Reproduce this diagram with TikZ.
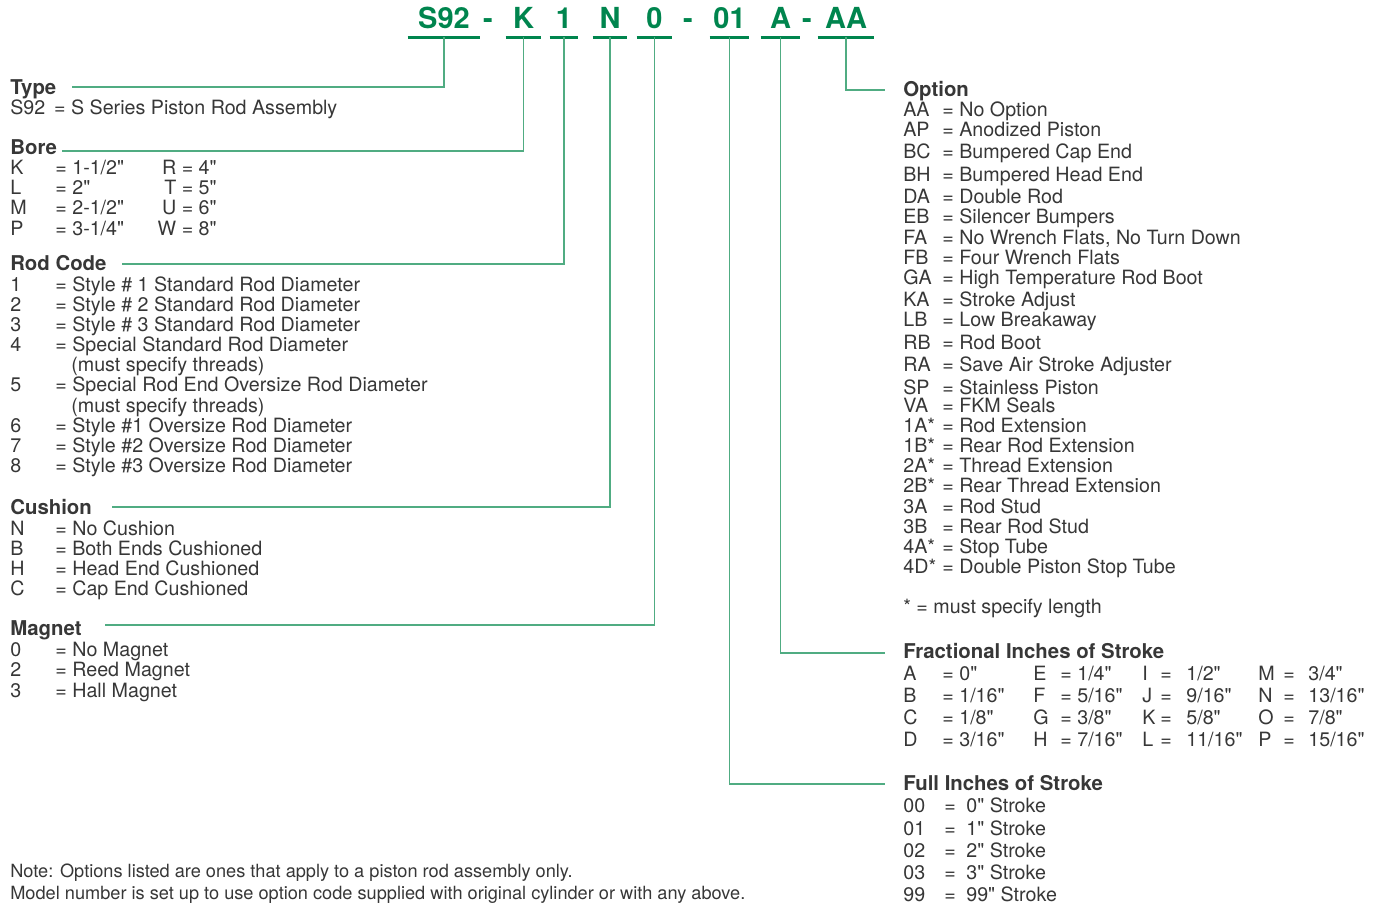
\documentclass[tikz,border=0pt]{standalone}
\usepackage{fontspec}
\setmainfont{TeX Gyre Heros}[Ligatures=TeXOff]
\newcommand{\inch}{\symbol{34}}
\definecolor{ink}{RGB}{55,55,55}
\definecolor{grn}{RGB}{0,133,78}
\definecolor{lead}{RGB}{80,172,130}
\tikzset{
  txt/.style={anchor=west,inner sep=0,text=ink,text height=1.5ex,text depth=0.35ex,
    yshift=-0.04cm,font=\fontsize{11.2}{13}\selectfont},
  head/.style={txt,font=\fontsize{11.6}{13}\selectfont\bfseries},
  small/.style={txt,font=\fontsize{10.35}{12}\selectfont},
  part/.style={inner sep=0,minimum height=0.76cm,text=grn,text height=12pt,text depth=0pt,
    font=\fontsize{16.5}{18}\selectfont\bfseries},
  uline/.style={grn,line width=1.4pt},
  link/.style={lead,line width=0.9pt}
}
\begin{document}
\begin{tikzpicture}[x=0.02cm,y=-0.02cm]
  \useasboundingbox (0,0) rectangle (1379,906);
  % model code
  \node[part,minimum width=1.44cm] (cS92) at (444,18) {S92};
  \node[part] (d1) at (488,18) {-};
  \node[part,minimum width=0.70cm] (cK) at (523.5,18) {K};
  \node[part,minimum width=0.56cm] (c1) at (564,18) {1};
  \node[part,minimum width=0.68cm] (cN) at (610,18) {N};
  \node[part,minimum width=0.70cm] (c0) at (654.5,18) {0};
  \node[part] (d2) at (688,18) {-};
  \node[part,minimum width=0.78cm] (c01) at (729.5,18) {01};
  \node[part,minimum width=0.78cm] (cA) at (780.5,18) {A};
  \node[part] (d3) at (807,18) {-};
  \node[part,minimum width=1.12cm] (cAA) at (846,18) {AA};
  \foreach \n in {cS92,cK,c1,cN,c0,c01,cA,cAA}
    \draw[uline] (\n.south west) -- (\n.south east);

  % left column
  \node[head] (hType) at (10,87) {Type};
  \node[txt] (tS92) at (10,107) {S92 \,= S Series Piston Rod Assembly};

  \node[head] (hBore) at (10,147) {Bore};
  \foreach \y/\k/\v/\w [count=\i] in {167/K/1-1\slash2\inch/R = 4\inch, 187/L/2\inch/T = 5\inch,
      207/M/2-1\slash2\inch/U = 6\inch, 228/P/3-1\slash4\inch/W = 8\inch}{
    \node[txt] (bk\i) at (10,\y) {\k};
    \node[txt] (bv\i) at (55,\y) {= \v};
    \node[txt,anchor=east] (bw\i) at (217,\y) {\w};}

  \node[head] (hRod) at (10,263) {Rod Code};
  \foreach \y/\k/\v [count=\i] in {284/1/Style \# 1 Standard Rod Diameter,
      304/2/Style \# 2 Standard Rod Diameter, 324/3/Style \# 3 Standard Rod Diameter,
      344/4/Special Standard Rod Diameter, 384/5/Special Rod End Oversize Rod Diameter,
      425/6/Style \#1 Oversize Rod Diameter, 445/7/Style \#2 Oversize Rod Diameter,
      465/8/Style \#3 Oversize Rod Diameter}{
    \node[txt] (rk\i) at (10,\y) {\k};
    \node[txt] (rv\i) at (55,\y) {= \v};}
  \node[txt] (rm4) at (71,364) {(must specify threads)};
  \node[txt] (rm5) at (71,405) {(must specify threads)};

  \node[head] (hCush) at (10,507) {Cushion};
  \foreach \y/\k/\v [count=\i] in {528/N/No Cushion, 548/B/Both Ends Cushioned,
      568/H/Head End Cushioned, 588/C/Cap End Cushioned}{
    \node[txt] (ck\i) at (10,\y) {\k};
    \node[txt] (cv\i) at (55,\y) {= \v};}

  \node[head] (hMag) at (10,628) {Magnet};
  \foreach \y/\k/\v [count=\i] in {649/0/No Magnet, 669/2/Reed Magnet, 690/3/Hall Magnet}{
    \node[txt] (mk\i) at (10,\y) {\k};
    \node[txt] (mv\i) at (55,\y) {= \v};}

  \node[small] (note1) at (10,870) {Note: Options listed are ones that apply to a piston rod assembly only.};
  \node[small] (note2) at (10,892) {Model number is set up to use option code supplied with original cylinder or with any above.};

  % right column
  \node[head] (hOpt) at (903,89) {Option};
  \foreach \y/\k/\v [count=\i] in {109/AA/No Option, 129/AP/Anodized Piston,
      151/BC/Bumpered Cap End, 174/BH/Bumpered Head End, 196/DA/Double Rod,
      216/EB/Silencer Bumpers, 237/FA/{No Wrench Flats, No Turn Down},
      257/FB/Four Wrench Flats, 277/GA/High Temperature Rod Boot,
      299/KA/Stroke Adjust, 319/LB/Low Breakaway, 342/RB/Rod Boot,
      364/RA/Save Air Stroke Adjuster, 387/SP/Stainless Piston, 405/VA/FKM Seals,
      425/1A*/Rod Extension, 445/1B*/Rear Rod Extension, 465/2A*/Thread Extension,
      485/2B*/Rear Thread Extension, 506/3A/Rod Stud, 526/3B/Rear Rod Stud,
      546/4A*/Stop Tube, 566/4D*/Double Piston Stop Tube}{
    \node[txt] (ok\i) at (903,\y) {\k};
    \node[txt] (ov\i) at (942,\y) {= \v};}
  \node[txt] (oStar) at (903,606) {* = must specify length};

  \node[head] (hFrac) at (903,651) {Fractional Inches of Stroke};
  \foreach \y/\a/\av/\b/\bv/\c/\cv/\d/\dv [count=\i] in {
      673/A/0\inch/E/1\slash4\inch/I/1\slash2\inch/M/3\slash4\inch,
      695/B/1\slash16\inch/F/5\slash16\inch/J/9\slash16\inch/N/13\slash16\inch,
      717/C/1\slash8\inch/G/3\slash8\inch/K/5\slash8\inch/O/7\slash8\inch,
      739/D/3\slash16\inch/H/7\slash16\inch/L/11\slash16\inch/P/15\slash16\inch}{
    \node[txt] (fa\i) at (903,\y) {\a};
    \node[txt] (fav\i) at (942,\y) {= \av};
    \node[txt] (fb\i) at (1033,\y) {\b};
    \node[txt] (fbv\i) at (1060,\y) {= \bv};
    \node[txt] (fc\i) at (1142,\y) {\c};
    \node[txt] (fce\i) at (1160,\y) {=};
    \node[txt] (fcv\i) at (1186,\y) {\cv};
    \node[txt] (fd\i) at (1258,\y) {\d};
    \node[txt] (fde\i) at (1283,\y) {=};
    \node[txt] (fdv\i) at (1308,\y) {\dv};}

  \node[head] (hFull) at (903,783) {Full Inches of Stroke};
  \foreach \y/\k/\v [count=\i] in {805/00/0, 828/01/1, 850/02/2, 872/03/3, 894/99/99}{
    \node[txt] (sk\i) at (903,\y) {\k};
    \node[txt] (se\i) at (944,\y) {=};
    \node[txt] (sv\i) at (966,\y) {\v\inch{} Stroke};}

  % leader lines
  \coordinate (eType) at (72,87);
  \coordinate (eBore) at (62,151);
  \coordinate (eRod) at (122,264);
  \coordinate (eCush) at (112,507);
  \coordinate (eMag) at (105,625);
  \coordinate (eOpt) at (885,90);
  \coordinate (eFrac) at (885,653);
  \coordinate (eFull) at (885,784);
  \draw[link] (cS92.south) |- (eType);
  \draw[link] (cK.south) |- (eBore);
  \draw[link] (c1.south) |- (eRod);
  \draw[link] (cN.south) |- (eCush);
  \draw[link] (c0.south) |- (eMag);
  \draw[link] (cAA.south) |- (eOpt);
  \draw[link] (cA.south) |- (eFrac);
  \draw[link] (c01.south) |- (eFull);
\end{tikzpicture}
\end{document}
